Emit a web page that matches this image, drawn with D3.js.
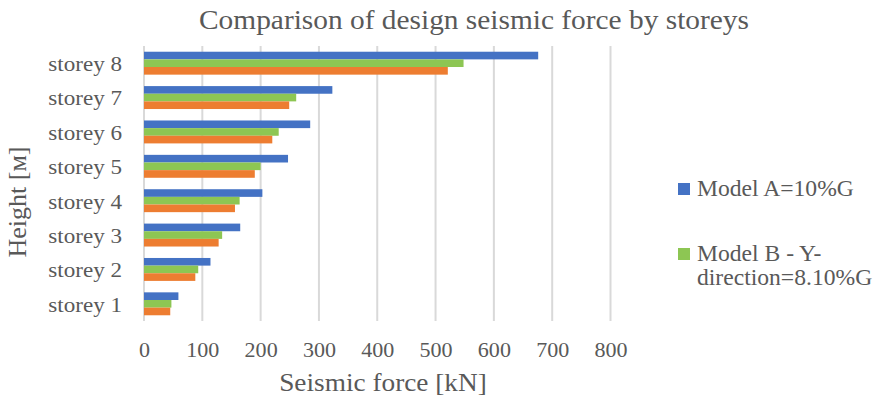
<!DOCTYPE html>
<html>
<head>
<meta charset="utf-8">
<script src="https://cdn.jsdelivr.net/npm/d3@7"></script>
<style>
  html, body { margin: 0; padding: 0; background: #fff; }
  svg { display: block; }
  svg text { font-family: "Liberation Serif", "Times New Roman", serif; fill: #595959; }
</style>
</head>
<body>
<svg id="chart" width="875" height="398"></svg>
<script>
// Storey labels, bottom to top
const storeys = ["storey 1", "storey 2", "storey 3", "storey 4", "storey 5", "storey 6", "storey 7", "storey 8"];
// Design seismic force per storey [kN]
const modelA = [59, 114, 165, 203, 247, 285, 323, 676];
const modelBY = [47, 93, 134, 164, 200, 231, 261, 548];
const modelBX = [45, 88, 128, 156, 190, 220, 249, 521];
const seriesNames = ["Model A=10%G", "Model B - Y-direction=8.10%G", "Model B - X-direction"];
const seriesColors = ["#4472C4", "#8DC653", "#ED7D31"];
const xTicks = [0, 100, 200, 300, 400, 500, 600, 700, 800];

const W = 875, H = 398;
const plot = { left: 144, right: 610.5, top: 46, bottom: 321 };
// slight horizontal widening of the serif lettering
const STRETCH = 1.05;

const svg = d3.select("#chart");

const x = d3.scaleLinear().domain([0, 800]).range([plot.left, plot.right]);
const y = d3.scaleBand().domain(storeys.slice().reverse())
  .range([plot.top, plot.bottom]).paddingInner(0.333).paddingOuter(0.1665);
const seriesList = [modelA, modelBY, modelBX];
const sub = d3.scaleBand().domain(d3.range(seriesList.length)).range([0, y.bandwidth()]);

// place a text at (px, py) with horizontal widening about its anchor
function stretched(sel, px, py) {
  return sel.attr("x", px / STRETCH).attr("y", py).attr("transform", `scale(${STRETCH},1)`);
}

// Title
stretched(svg.append("text"), 474, 29)
  .attr("text-anchor", "middle")
  .attr("font-size", 28)
  .text("Comparison of design seismic force by storeys");

// Vertical gridlines
svg.append("g").selectAll("line").data(xTicks).join("line")
  .attr("x1", d => x(d)).attr("x2", d => x(d))
  .attr("y1", plot.top).attr("y2", plot.bottom)
  .attr("stroke", "#d9d9d9").attr("stroke-width", 2);

// Bars
const groups = svg.append("g").selectAll("g").data(storeys).join("g")
  .attr("transform", d => `translate(0,${y(d)})`);
groups.selectAll("rect")
  .data((d, i) => seriesList.map((s, k) => ({ k, v: s[i] })))
  .join("rect")
  .attr("x", x(0))
  .attr("y", d => sub(d.k))
  .attr("width", d => x(d.v) - x(0))
  .attr("height", sub.bandwidth())
  .attr("fill", d => seriesColors[d.k]);

// X tick labels
const xAxis = d3.axisBottom(x).tickValues(xTicks).tickSize(0).tickPadding(0);
const gx = svg.append("g").attr("transform", `translate(0,357)`).call(xAxis)
  .attr("font-family", null).attr("font-size", null);
gx.select(".domain").remove();
gx.selectAll("text")
  .attr("font-size", 21).attr("fill", null).attr("dy", 0)
  .attr("y", 0).attr("transform", `scale(${STRETCH},1)`);

// Y category labels
const yAxis = d3.axisLeft(y).tickSize(0).tickPadding(22);
const gy = svg.append("g").attr("transform", `translate(${x(0)},0)`).call(yAxis)
  .attr("font-family", null).attr("font-size", null);
gy.select(".domain").remove();
gy.selectAll("text")
  .attr("font-size", 22).attr("fill", null).attr("dy", "0.36em")
  .attr("x", -22 / STRETCH).attr("transform", `scale(${STRETCH},1)`);

// Axis titles
stretched(svg.append("text"), 383, 391)
  .attr("text-anchor", "middle").attr("font-size", 26)
  .text("Seismic force [kN]");
svg.append("text")
  .attr("transform", "translate(26,202) rotate(-90)")
  .attr("text-anchor", "middle").attr("font-size", 26)
  .text("Height [м]");

// Legend (first two series)
const legend = [
  { color: seriesColors[0], lines: ["Model A=10%G"], y: 196 },
  { color: seriesColors[1], lines: ["Model B - Y-", "direction=8.10%G"], y: 261 }
];
const lg = svg.append("g").selectAll("g").data(legend).join("g");
lg.append("rect")
  .attr("x", 678).attr("y", d => d.y - 13)
  .attr("width", 12).attr("height", 12)
  .attr("fill", d => d.color);
lg.append("text")
  .attr("transform", `scale(${STRETCH},1)`)
  .attr("font-size", 22.5)
  .selectAll("tspan").data(d => d.lines.map((t, i) => ({ t, i, y0: d.y }))).join("tspan")
  .attr("x", 697 / STRETCH)
  .attr("y", d => d.y0 + d.i * 24.5)
  .text(d => d.t);
</script>
</body>
</html>
